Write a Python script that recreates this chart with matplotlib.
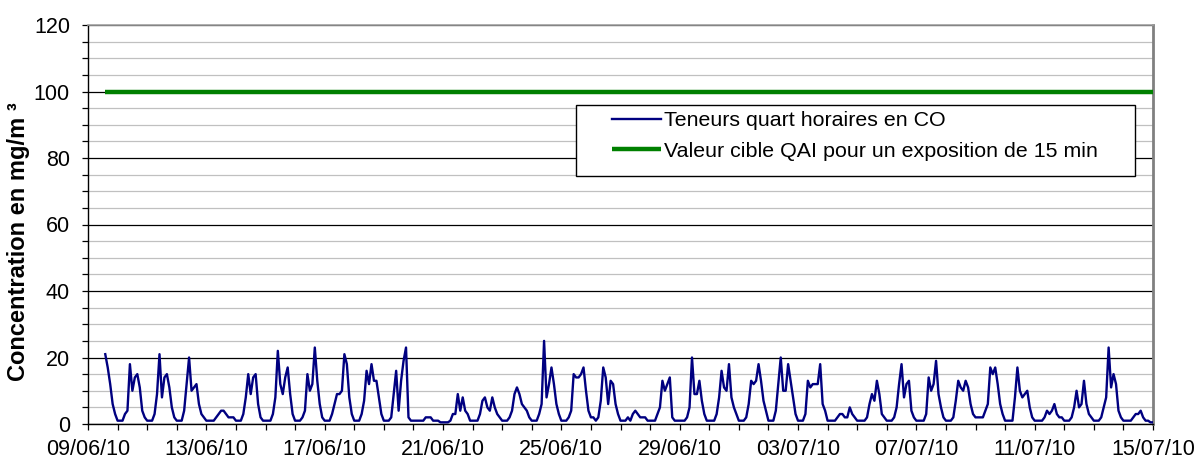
import numpy as np
import pandas as pd
import matplotlib
matplotlib.use('Agg')
import matplotlib.pyplot as plt
import matplotlib.dates as mdates
from matplotlib.ticker import MultipleLocator, FixedLocator
from matplotlib.patches import Rectangle

plt.rcParams['font.family'] = ['Liberation Sans', 'DejaVu Sans']

nan = np.nan

# CO concentrations (mg/m3) read every 2 hours (00h, 02h, ... 22h), one row per day
co_w1 = [  # 09/06 -> 15/06
    nan, nan, nan, nan, nan, nan, nan, 21, 17, 12, 6, 3,
    1, 1, 1, 3, 4, 18, 10, 14, 15, 11, 4, 2,
    1, 1, 1, 3, 9, 21, 8, 14, 15, 11, 5, 2,
    1, 1, 1, 4, 12, 20, 10, 11, 12, 6, 3, 2,
    1, 1, 1, 1, 2, 3, 4, 4, 3, 2, 2, 2,
    1, 1, 1, 3, 8, 15, 9, 14, 15, 6, 2, 1,
    1, 1, 1, 3, 8, 22, 12, 9, 14, 17, 9, 3,
]
co_w2 = [  # 16/06 -> 22/06
    1, 1, 1, 2, 4, 15, 10, 12, 23, 13, 6, 2,
    1, 1, 1, 3, 6, 9, 9, 10, 21, 18, 8, 3,
    1, 1, 1, 3, 7, 16, 12, 18, 13, 13, 8, 3,
    1, 1, 1, 2, 9, 16, 4, 13, 19, 23, 2, 1,
    1, 1, 1, 1, 1, 2, 2, 2, 1, 1, 1, 0.5,
    0.5, 0.5, 0.5, 1, 3, 3, 9, 4, 8, 4, 3, 1,
    1, 1, 1, 3, 7, 8, 5, 4, 8, 5, 3, 2,
]
co_w3 = [  # 23/06 -> 29/06
    1, 1, 1, 2, 4, 9, 11, 9, 6, 5, 4, 2,
    1, 1, 1, 3, 6, 25, 8, 12, 17, 12, 6, 3,
    1, 1, 1, 2, 4, 15, 14, 14, 15, 17, 10, 4,
    2, 2, 1, 2, 7, 17, 14, 6, 13, 12, 6, 3,
    1, 1, 1, 2, 1, 3, 4, 3, 2, 2, 2, 1,
    1, 1, 1, 3, 5, 13, 10, 12, 14, 2, 1, 1,
    1, 1, 1, 2, 5, 20, 9, 9, 13, 7, 3, 1,
]
co_w4 = [  # 30/06 -> 06/07
    1, 1, 1, 3, 8, 16, 11, 10, 18, 8, 5, 3,
    1, 1, 1, 2, 6, 13, 12, 13, 18, 13, 7, 4,
    1, 1, 1, 4, 12, 20, 10, 10, 18, 13, 8, 3,
    1, 1, 1, 3, 13, 11, 12, 12, 12, 18, 6, 4,
    1, 1, 1, 1, 2, 3, 3, 2, 2, 5, 3, 2,
    1, 1, 1, 1, 2, 6, 9, 7, 13, 9, 3, 2,
    1, 1, 1, 2, 5, 12, 18, 8, 12, 13, 4, 2,
]
co_w5 = [  # 07/07 -> 13/07
    1, 1, 1, 1, 3, 14, 10, 12, 19, 9, 5, 2,
    1, 1, 1, 2, 7, 13, 11, 10, 13, 11, 6, 3,
    2, 2, 2, 2, 4, 6, 17, 15, 17, 12, 6, 3,
    1, 1, 1, 1, 8, 17, 10, 8, 9, 10, 5, 2,
    1, 1, 1, 1, 2, 4, 3, 4, 6, 3, 2, 2,
    1, 1, 1, 2, 5, 10, 5, 6, 13, 6, 3, 2,
    1, 1, 1, 2, 5, 8, 23, 11, 15, 12, 4, 2,
]
co_w6 = [  # 14/07 -> 15/07 00h
    1, 1, 1, 1, 2, 3, 3, 4, 2, 1, 1, 0.5,
    0.5,
]

series_start = '2010-06-09 00:00'
series_step = '2h'
target_value = 100
target_period = ['2010-06-09 13:45', '2010-07-15 00:00']
x_range = ['2010-06-09', '2010-07-15']

series_label = 'Teneurs quart horaires en CO'
target_label = 'Valeur cible QAI pour un exposition de 15 min'
y_label = 'Concentration en mg/m \u00b3'

co = co_w1 + co_w2 + co_w3 + co_w4 + co_w5 + co_w6
times = pd.date_range(series_start, periods=len(co), freq=series_step)
t_target = pd.to_datetime(target_period)

W, H = 1197, 466
fig = plt.figure(figsize=(W / 100, H / 100), dpi=100)
ax = fig.add_axes([88 / W, 1 - 424 / H, (1153 - 88) / W, (424 - 25) / H])

ax.plot(times, co, color='#000080', lw=1.7, label=series_label, zorder=3)
ax.plot(t_target, [target_value, target_value], color='#008000', lw=3.2,
        label=target_label, zorder=3, solid_capstyle='butt')

ax.set_ylim(0, 120)
ax.set_xlim(pd.to_datetime(x_range[0]), pd.to_datetime(x_range[1]))

ax.yaxis.set_major_locator(MultipleLocator(20))
ax.yaxis.set_minor_locator(MultipleLocator(5))
ax.grid(which='major', axis='y', color='black', lw=0.9, zorder=1)
ax.grid(which='minor', axis='y', color='#c0c0c0', lw=0.9, zorder=1)
ax.set_axisbelow(True)

major_days = pd.date_range(x_range[0], x_range[1], freq='4D')
minor_days = pd.date_range(x_range[0], x_range[1], freq='D')
ax.xaxis.set_major_locator(FixedLocator(mdates.date2num(major_days)))
ax.xaxis.set_minor_locator(FixedLocator(mdates.date2num(minor_days)))
ax.xaxis.set_major_formatter(mdates.DateFormatter('%d/%m/%y'))

ax.tick_params(axis='both', which='both', direction='out', length=4, width=0.9, color='black')
ax.tick_params(axis='x', which='major', labelsize=15.5, pad=7)
ax.tick_params(axis='y', which='major', labelsize=15.5, pad=9)

for side in ['left', 'bottom']:
    ax.spines[side].set_color('black')
    ax.spines[side].set_linewidth(1.0)
ax.spines['top'].set_color('#a0a0a0')
ax.spines['top'].set_linewidth(1.2)
ax.spines['right'].set_color('#808080')
ax.spines['right'].set_linewidth(2.0)

fig.text(19 / W, 1 - 242 / H, y_label, rotation=90, ha='center', va='center',
         fontsize=17, fontweight='bold')

# legend frame
fig.add_artist(Rectangle((576 / W, 1 - 176 / H), (1135 - 576) / W, (176 - 105) / H,
                         transform=fig.transFigure, facecolor='white',
                         edgecolor='black', lw=1.0, zorder=2))
fig.legend(loc='upper left', bbox_to_anchor=(612 / W, 1 - 111 / H),
           bbox_transform=fig.transFigure, frameon=False, fontsize=15.4,
           handlelength=2.3, handletextpad=0.12, labelspacing=0.55,
           borderpad=0, borderaxespad=0)

fig.savefig('out.png', dpi=100)
